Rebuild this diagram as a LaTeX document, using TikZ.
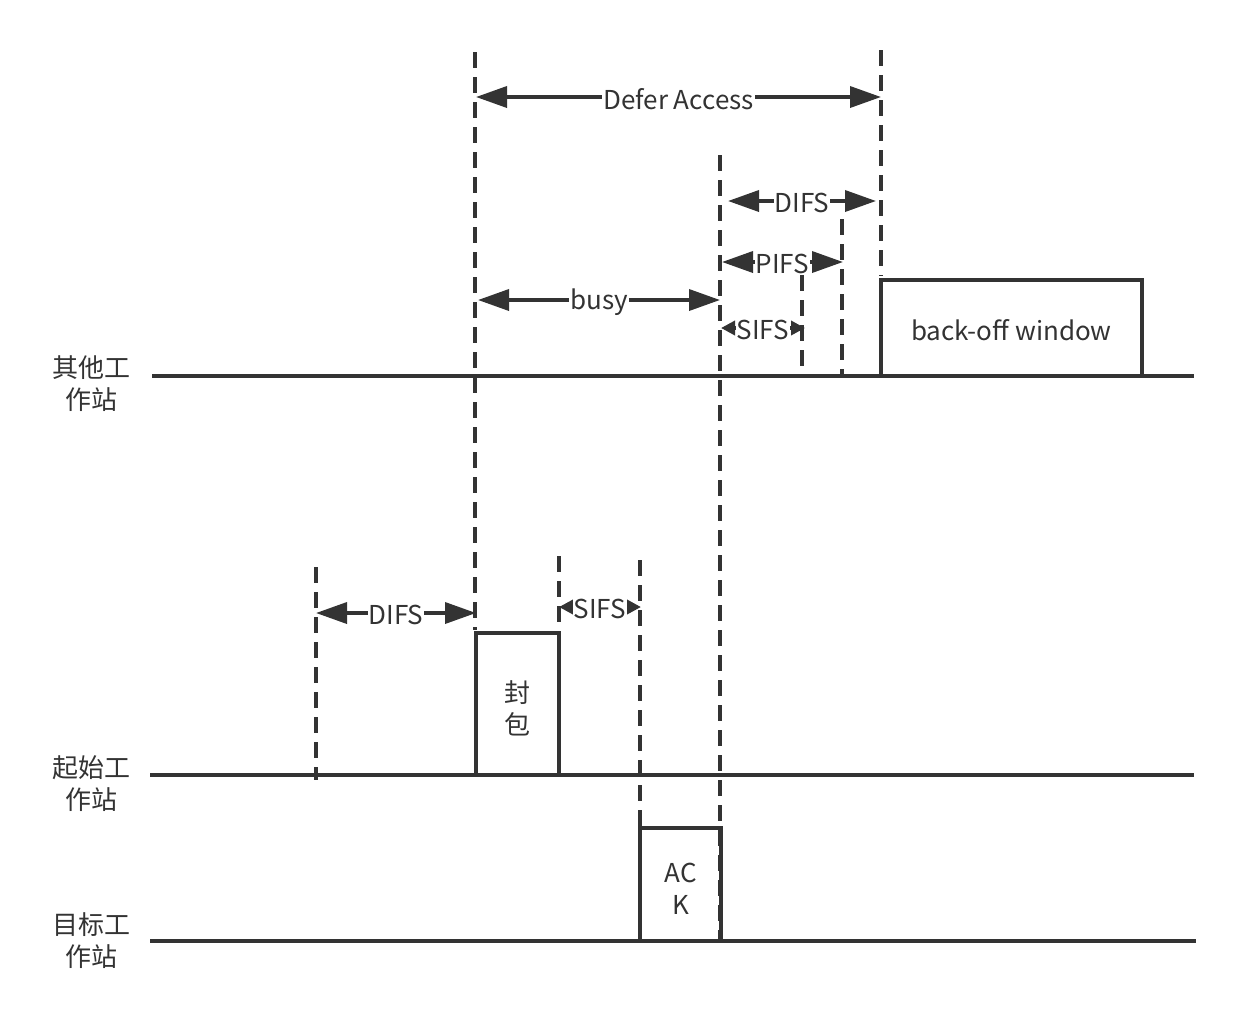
\documentclass[tikz,border=0pt]{standalone}
\usepackage{fontspec}
\setmainfont{Noto Sans CJK SC}
\usetikzlibrary{arrows.meta}
\definecolor{ink}{HTML}{333333}
\begin{document}
\begin{tikzpicture}[x=1pt,y=-1pt,
  every node/.style={text=ink, font=\fontsize{26}{32}\selectfont},
  timeline/.style={line width=3.6pt, draw=ink},
  guide/.style={line width=3.6pt, draw=ink, dash pattern=on 16pt off 9pt},
  slot/.style={line width=3.6pt, draw=ink, rectangle, inner sep=0pt},
  slottext/.style={align=center, inner sep=0pt},
  bigspan/.style={line width=3.6pt, draw=ink, {Triangle[length=31pt,width=21pt]}-{Triangle[length=31pt,width=21pt]}},
  smallspan/.style={line width=3.6pt, draw=ink, {Triangle[length=14pt,width=14pt]}-{Triangle[length=14pt,width=14pt]}},
  lbl/.style={fill=white, inner sep=1pt, yshift=-2pt},
  station/.style={align=center, inner sep=0pt}]
\useasboundingbox (0,0) rectangle (1246,1034);

% station labels
\node[station] (other) at (91,384) {其他工\\作站};
\node[station] (start) at (91,784) {起始工\\作站};
\node[station] (target) at (91,941) {目标工\\作站};

% timelines
\coordinate (o1) at (152,376); \coordinate (o2) at (1194,376);
\coordinate (s1) at (150,775); \coordinate (s2) at (1194,775);
\coordinate (t1) at (150,941); \coordinate (t2) at (1196,941);
\draw[timeline] (o1) -- (o2);
\draw[timeline] (s1) -- (s2);
\draw[timeline] (t1) -- (t2);

% boxes
\node[slot, draw, minimum width=261pt, minimum height=96pt] (backoff) at (1011.5,328) {};
\node[slottext] (backofftext) at (1011.5,330) {back-off window};
\node[slot, draw, minimum width=83pt, minimum height=142pt] (packet) at (517.5,704) {};
\node[slottext] (packettext) at (517.5,708) {封\\包};
\node[slot, draw, minimum width=81pt, minimum height=113pt] (ack) at (680.5,884.5) {};
\node[slottext] (acktext) at (680.5,889) {AC\\K};

% dashed guides
\coordinate (g1a) at (475,52);  \coordinate (g1b) at (475,630);
\coordinate (g2a) at (881,50);  \coordinate (g2b) at (881,276);
\coordinate (g3a) at (720,155); \coordinate (g3b) at (720,941);
\coordinate (g4a) at (842,219); \coordinate (g4b) at (842,374);
\coordinate (g5a) at (802,275); \coordinate (g5b) at (802,375);
\coordinate (g6a) at (316,567); \coordinate (g6b) at (316,780);
\coordinate (g7a) at (559,556); \coordinate (g7b) at (559,780);
\coordinate (g8a) at (640,560); \coordinate (g8b) at (640,828);
\draw[guide] (g1a) -- (g1b);
\draw[guide] (g2a) -- (g2b);
\draw[guide] (g3a) -- (g3b);
\draw[guide] (g4a) -- (g4b);
\draw[guide] (g5a) -- (g5b);
\draw[guide] (g6a) -- (g6b);
\draw[guide] (g7a) -- (g7b);
\draw[guide] (g8a) -- (g8b);

% spans
\coordinate (da1) at (476,97);  \coordinate (da2) at (881,97);
\coordinate (di1) at (728,201); \coordinate (di2) at (876,201);
\coordinate (pi1) at (722,262); \coordinate (pi2) at (843,262);
\coordinate (bu1) at (478,300); \coordinate (bu2) at (720,300);
\coordinate (si1) at (721,328); \coordinate (si2) at (805,328);
\coordinate (dj1) at (316,613); \coordinate (dj2) at (476,613);
\coordinate (sj1) at (559,607); \coordinate (sj2) at (641,607);
\draw[bigspan] (da1) -- node[lbl] (lda) {Defer Access} (da2);
\draw[bigspan] (di1) -- node[lbl] (ldi) {DIFS} (di2);
\draw[bigspan] (pi1) -- node[lbl] (lpi) {PIFS} (pi2);
\draw[bigspan] (bu1) -- node[lbl] (lbu) {busy} (bu2);
\draw[smallspan] (si1) -- node[lbl] (lsi) {SIFS} (si2);
\draw[bigspan] (dj1) -- node[lbl] (ldj) {DIFS} (dj2);
\draw[smallspan] (sj1) -- node[lbl] (lsj) {SIFS} (sj2);
\end{tikzpicture}
\end{document}
